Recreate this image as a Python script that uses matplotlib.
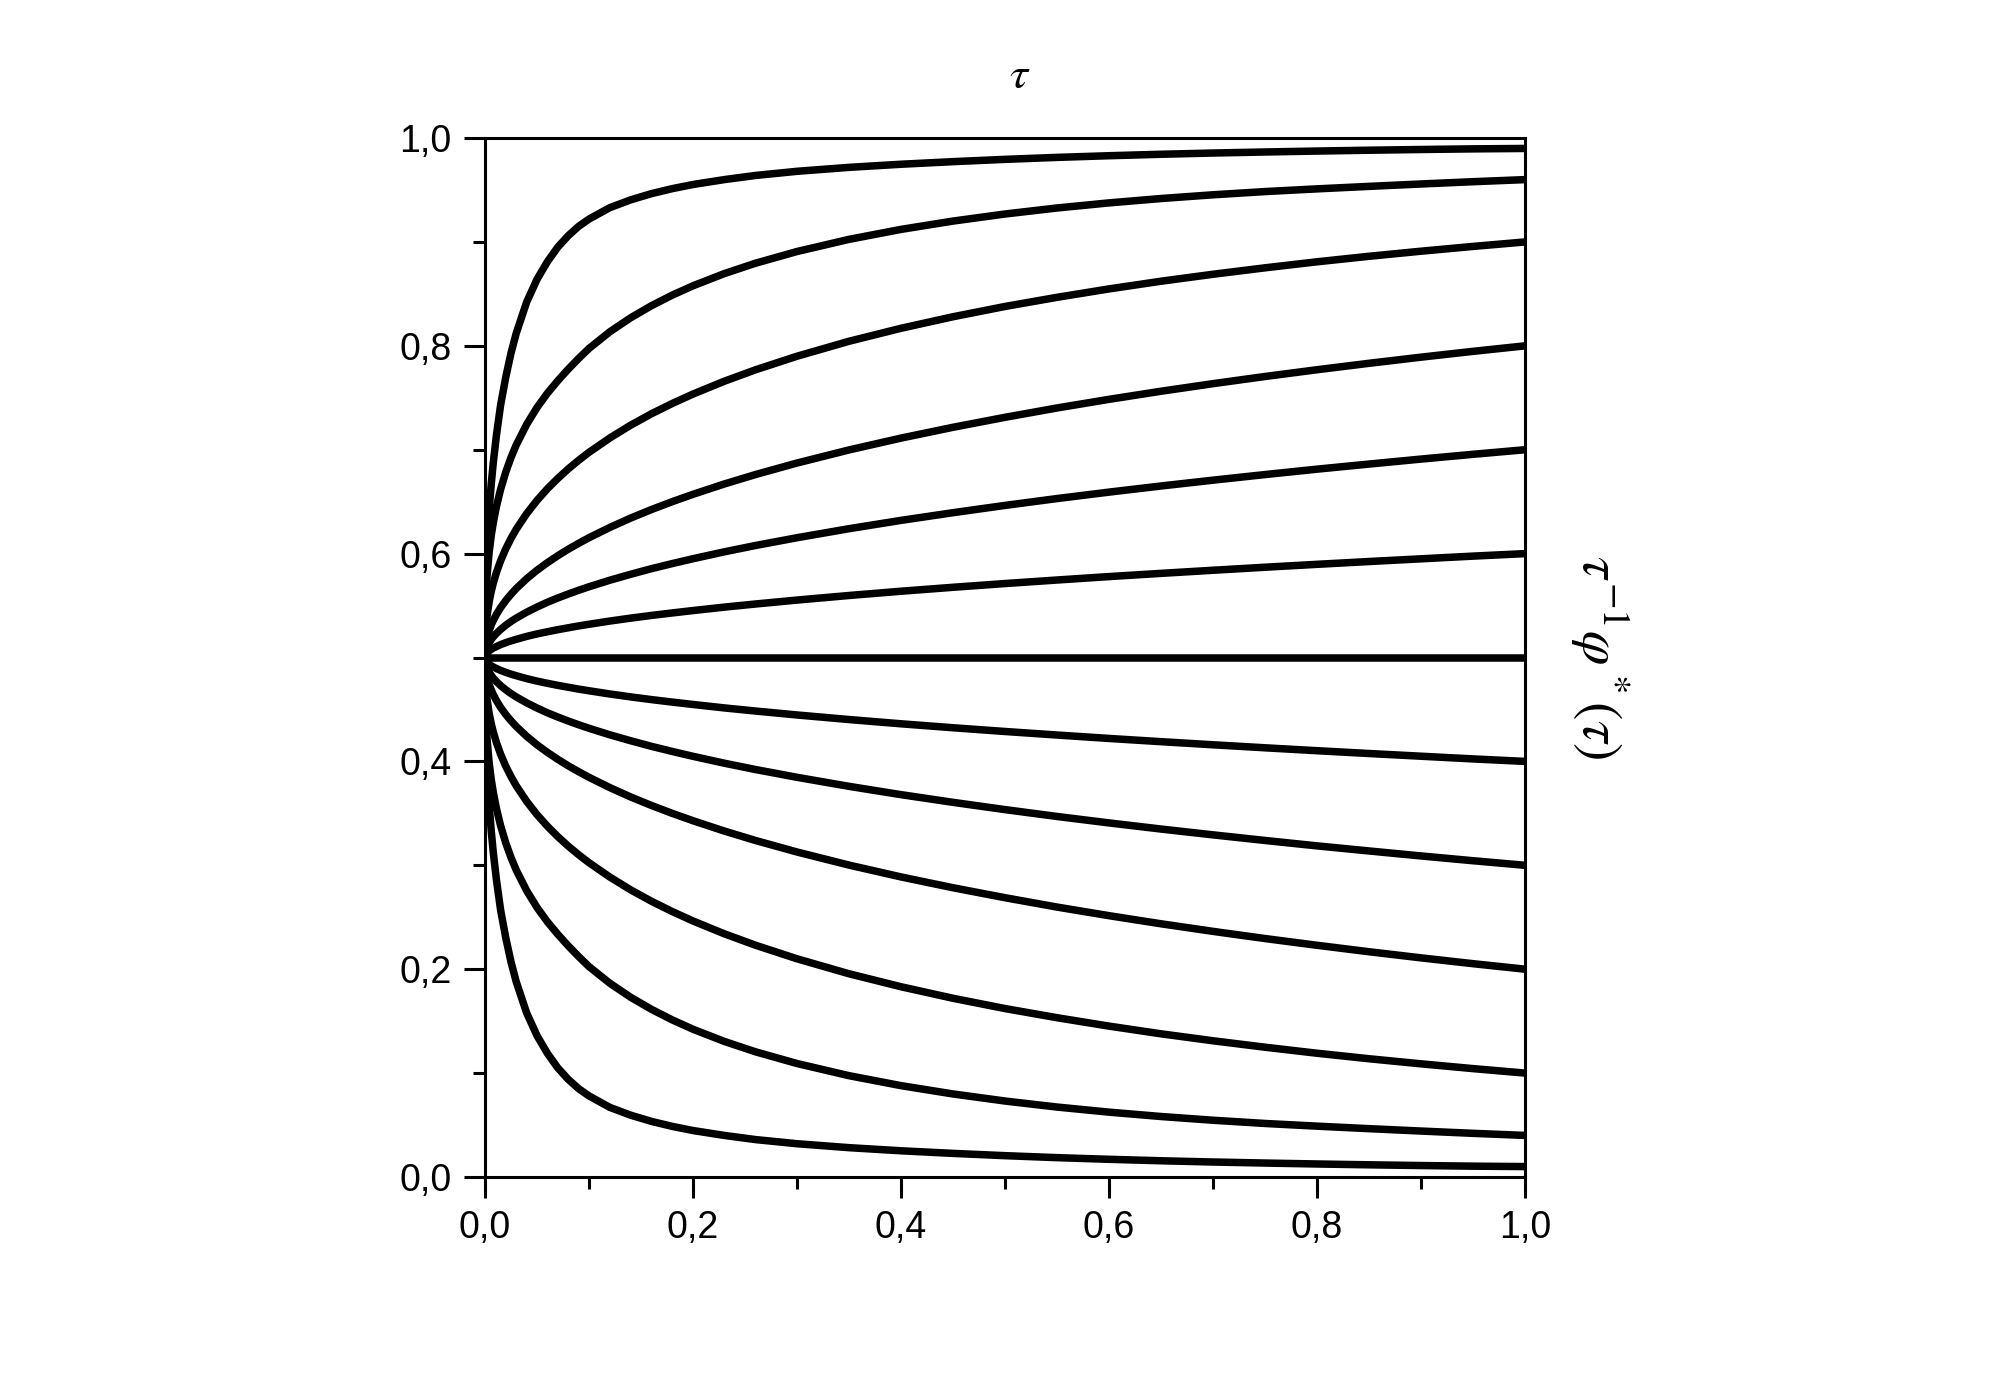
import matplotlib
matplotlib.use("Agg")
import matplotlib.pyplot as plt
from matplotlib.ticker import MultipleLocator, FuncFormatter

plt.rcParams['font.family'] = ['Liberation Sans', 'DejaVu Sans']
plt.rcParams['mathtext.fontset'] = 'stix'

# values
tau = [0, 0.001, 0.002, 0.004, 0.006, 0.008, 0.011, 0.015, 0.02, 0.025, 0.03,
       0.04, 0.05, 0.06, 0.07, 0.08, 0.09, 0.1, 0.12, 0.14, 0.16,
       0.18, 0.2, 0.23, 0.26, 0.3, 0.35, 0.4, 0.45, 0.5, 0.55,
       0.6, 0.65, 0.7, 0.75, 0.8, 0.85, 0.9, 0.95, 1.0]

c099 = [0.5, 0.579, 0.606, 0.642, 0.667, 0.688, 0.714, 0.743, 0.770, 0.793, 0.812,
        0.842, 0.864, 0.881, 0.895, 0.906, 0.915, 0.922, 0.933, 0.9405, 0.9465,
        0.9513, 0.9553, 0.960, 0.9640, 0.9680, 0.9718, 0.9748, 0.9773, 0.9795, 0.9814,
        0.9830, 0.9844, 0.9856, 0.9866, 0.9875, 0.9883, 0.9890, 0.9896, 0.9900]
c096 = [0.5, 0.5613, 0.5790, 0.6015, 0.6174, 0.6300, 0.6454, 0.6619, 0.6786, 0.6925, 0.7045,
        0.7243, 0.7406, 0.7544, 0.7664, 0.7775, 0.7878, 0.7975, 0.8135, 0.8270, 0.8386,
        0.8488, 0.8578, 0.8695, 0.8795, 0.8908, 0.9025, 0.9121, 0.9201, 0.9269, 0.9327,
        0.9376, 0.9418, 0.9454, 0.9485, 0.9511, 0.9535, 0.9558, 0.9580, 0.9600]
c090 = [0.5, 0.5302, 0.5403, 0.5538, 0.5637, 0.5718, 0.5819, 0.5931, 0.6047, 0.6146, 0.6234,
        0.6384, 0.6512, 0.6624, 0.6724, 0.6815, 0.6898, 0.6975, 0.7113, 0.7236, 0.7346,
        0.7445, 0.7536, 0.7659, 0.7769, 0.7900, 0.8044, 0.8169, 0.8280, 0.8379, 0.8467,
        0.8548, 0.8622, 0.8689, 0.8751, 0.8809, 0.8862, 0.8911, 0.8957, 0.9000]
c080 = [0.5, 0.5135, 0.5187, 0.5258, 0.5313, 0.5358, 0.5415, 0.5480, 0.5549, 0.5609, 0.5663,
        0.5758, 0.5840, 0.5913, 0.5980, 0.6042, 0.6099, 0.6153, 0.6252, 0.6342, 0.6424,
        0.6500, 0.6571, 0.6670, 0.6761, 0.6872, 0.6998, 0.7112, 0.7216, 0.7312, 0.7402,
        0.7485, 0.7563, 0.7636, 0.7705, 0.7770, 0.7832, 0.7891, 0.7947, 0.8000]
c070 = [0.5, 0.5072, 0.5101, 0.5141, 0.5173, 0.5199, 0.5232, 0.5270, 0.5311, 0.5347, 0.5379,
        0.5436, 0.5486, 0.5532, 0.5573, 0.5611, 0.5647, 0.5681, 0.5744, 0.5801, 0.5855,
        0.5904, 0.5951, 0.6017, 0.6078, 0.6153, 0.6240, 0.6320, 0.6394, 0.6464, 0.6530,
        0.6592, 0.6651, 0.6707, 0.6761, 0.6813, 0.6862, 0.6910, 0.6956, 0.7000]
c060 = [0.5, 0.5032, 0.5045, 0.5064, 0.5079, 0.5091, 0.5106, 0.5124, 0.5143, 0.5160, 0.5175,
        0.5203, 0.5227, 0.5248, 0.5268, 0.5286, 0.5304, 0.5320, 0.5351, 0.5379, 0.5405,
        0.5429, 0.5452, 0.5485, 0.5515, 0.5553, 0.5597, 0.5638, 0.5676, 0.5712, 0.5746,
        0.5779, 0.5810, 0.5840, 0.5869, 0.5897, 0.5924, 0.5950, 0.5976, 0.6000]
c050 = [0.5] * len(tau)
c040 = [0.5, 0.4968, 0.4955, 0.4936, 0.4921, 0.4909, 0.4894, 0.4876, 0.4857, 0.4840, 0.4825,
        0.4797, 0.4773, 0.4752, 0.4732, 0.4714, 0.4696, 0.4680, 0.4649, 0.4621, 0.4595,
        0.4571, 0.4548, 0.4515, 0.4485, 0.4447, 0.4403, 0.4362, 0.4324, 0.4288, 0.4254,
        0.4221, 0.4190, 0.4160, 0.4131, 0.4103, 0.4076, 0.4050, 0.4024, 0.4000]
c030 = [0.5, 0.4928, 0.4899, 0.4859, 0.4827, 0.4801, 0.4768, 0.4730, 0.4689, 0.4653, 0.4621,
        0.4564, 0.4514, 0.4468, 0.4427, 0.4389, 0.4353, 0.4319, 0.4256, 0.4199, 0.4145,
        0.4096, 0.4049, 0.3983, 0.3922, 0.3847, 0.3760, 0.3680, 0.3606, 0.3536, 0.3470,
        0.3408, 0.3349, 0.3293, 0.3239, 0.3187, 0.3138, 0.3090, 0.3044, 0.3000]
c020 = [0.5, 0.4865, 0.4813, 0.4742, 0.4687, 0.4642, 0.4585, 0.4520, 0.4451, 0.4391, 0.4337,
        0.4242, 0.4160, 0.4087, 0.4020, 0.3958, 0.3901, 0.3847, 0.3748, 0.3658, 0.3576,
        0.3500, 0.3429, 0.3330, 0.3239, 0.3128, 0.3002, 0.2888, 0.2784, 0.2688, 0.2598,
        0.2515, 0.2437, 0.2364, 0.2295, 0.2230, 0.2168, 0.2109, 0.2053, 0.2000]
c010 = [0.5, 0.4698, 0.4597, 0.4462, 0.4363, 0.4282, 0.4181, 0.4069, 0.3953, 0.3854, 0.3766,
        0.3616, 0.3488, 0.3376, 0.3276, 0.3185, 0.3102, 0.3025, 0.2887, 0.2764, 0.2654,
        0.2555, 0.2464, 0.2341, 0.2231, 0.2100, 0.1956, 0.1831, 0.1720, 0.1621, 0.1533,
        0.1452, 0.1378, 0.1311, 0.1249, 0.1191, 0.1138, 0.1089, 0.1043, 0.1000]
c004 = [0.5, 0.4387, 0.4210, 0.3985, 0.3826, 0.3700, 0.3546, 0.3381, 0.3214, 0.3075, 0.2955,
        0.2757, 0.2594, 0.2456, 0.2336, 0.2225, 0.2122, 0.2025, 0.1865, 0.1730, 0.1614,
        0.1512, 0.1422, 0.1305, 0.1205, 0.1092, 0.0975, 0.0879, 0.0799, 0.0731, 0.0673,
        0.0624, 0.0582, 0.0546, 0.0515, 0.0489, 0.0465, 0.0442, 0.0420, 0.0400]
c001 = [0.5, 0.421, 0.394, 0.358, 0.333, 0.312, 0.286, 0.257, 0.230, 0.207, 0.188,
        0.158, 0.136, 0.119, 0.105, 0.094, 0.085, 0.078, 0.067, 0.0595, 0.0535,
        0.0487, 0.0447, 0.040, 0.0360, 0.0320, 0.0282, 0.0252, 0.0227, 0.0205, 0.0186,
        0.0170, 0.0156, 0.0144, 0.0134, 0.0125, 0.0117, 0.0110, 0.0104, 0.0100]

curves = [c099, c096, c090, c080, c070, c060, c050,
          c040, c030, c020, c010, c004, c001]

fig = plt.figure(figsize=(20, 13.96), dpi=100)
ax = fig.add_axes([0.2425, 0.1569, 0.52, 0.7442])

for c in curves:
    ax.plot(tau, c, color='black', lw=5.4, solid_joinstyle='round', solid_capstyle='butt')

ax.set_xlim(0, 1)
ax.set_ylim(0, 1)

fmt = FuncFormatter(lambda v, p: f'{v:.1f}'.replace('.', ','))
ax.xaxis.set_major_locator(MultipleLocator(0.2))
ax.xaxis.set_minor_locator(MultipleLocator(0.1))
ax.yaxis.set_major_locator(MultipleLocator(0.2))
ax.yaxis.set_minor_locator(MultipleLocator(0.1))
ax.xaxis.set_major_formatter(fmt)
ax.yaxis.set_major_formatter(fmt)

for s in ax.spines.values():
    s.set_linewidth(2.2)
ax.tick_params(which='major', direction='out', length=15, width=2.2,
               labelsize=27, pad=9, top=False, right=False)
ax.tick_params(which='minor', direction='out', length=8.5, width=2.2,
               top=False, right=False)

# axis titles: tau above the plot, the function on the right, read top to bottom
ax.text(0.514, 1.06, r'$\tau$', fontsize=33, transform=ax.transAxes,
        ha='center', va='center')
ax.text(1.072, 0.5, r'$\tau^{-1}\varphi^*(\tau)$', fontsize=40, rotation=-90,
        transform=ax.transAxes, ha='center', va='center')

fig.savefig('out.png', dpi=100)
